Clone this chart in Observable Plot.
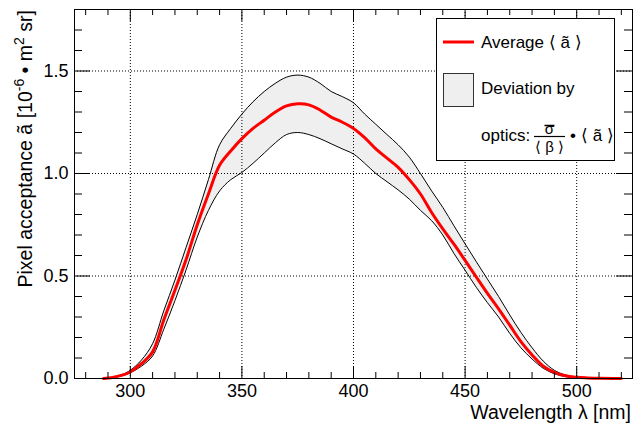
<!DOCTYPE html>
<html>
<head>
<meta charset="utf-8">
<script src="https://cdn.jsdelivr.net/npm/d3@7"></script>
<script src="https://cdn.jsdelivr.net/npm/@observablehq/plot@0.6"></script>
<style>
  html, body { margin: 0; padding: 0; background: #fff; }
  #chart { width: 635px; height: 432px; }
  svg { font-family: "Liberation Sans", Arial, Helvetica, sans-serif; }
</style>
</head>
<body>
<div id="chart"></div>
<script>
// ---- data ----
const wavelength = [288, 292, 296, 300, 305, 310, 315, 320, 325, 330, 335, 340, 345, 350, 355, 360, 365, 370, 375, 380, 385, 390, 395, 400, 405, 410, 415, 420, 425, 430, 435, 440, 445, 450, 455, 460, 465, 470, 475, 480, 485, 490, 495, 500, 505, 510, 520];
const average    = [0, 0.005, 0.015, 0.032, 0.072, 0.13, 0.285, 0.43, 0.58, 0.75, 0.9, 1.04, 1.11, 1.17, 1.22, 1.26, 1.30, 1.33, 1.34, 1.335, 1.31, 1.275, 1.25, 1.22, 1.175, 1.12, 1.075, 1.03, 0.97, 0.9, 0.81, 0.73, 0.655, 0.576, 0.495, 0.415, 0.34, 0.26, 0.18, 0.115, 0.06, 0.03, 0.013, 0.006, 0.003, 0.001, 0];
const upper      = [0, 0.006, 0.018, 0.04, 0.09, 0.17, 0.33, 0.48, 0.64, 0.8, 0.97, 1.14, 1.22, 1.29, 1.35, 1.40, 1.44, 1.47, 1.48, 1.47, 1.44, 1.40, 1.375, 1.345, 1.29, 1.24, 1.19, 1.14, 1.08, 1.0, 0.915, 0.835, 0.745, 0.657, 0.57, 0.485, 0.40, 0.31, 0.225, 0.15, 0.085, 0.04, 0.017, 0.007, 0.003, 0.001, 0];
const lower      = [0, 0.004, 0.012, 0.028, 0.06, 0.11, 0.24, 0.38, 0.53, 0.69, 0.82, 0.915, 0.97, 1.005, 1.05, 1.10, 1.15, 1.19, 1.2, 1.19, 1.17, 1.145, 1.12, 1.095, 1.05, 1.0, 0.96, 0.92, 0.875, 0.82, 0.77, 0.70, 0.61, 0.528, 0.445, 0.37, 0.30, 0.22, 0.15, 0.095, 0.05, 0.023, 0.009, 0.004, 0.002, 0.001, 0];

const xMajorTicks = [300, 350, 400, 450, 500];
const xMinorTicks = [280, 290, 310, 320, 330, 340, 360, 370, 380, 390, 410, 420, 430, 440, 460, 470, 480, 490, 510, 520];
const yMajorTicks = [0, 0.5, 1.0, 1.5];
const yTickLabels = ["0.0", "0.5", "1.0", "1.5"];
const yMinorTicks = [0.1, 0.2, 0.3, 0.4, 0.6, 0.7, 0.8, 0.9, 1.1, 1.2, 1.3, 1.4, 1.6, 1.7];

const data = wavelength.map((w, i) => ({w, avg: average[i], hi: upper[i], lo: lower[i]}));

const W = 635, H = 432, ML = 74, MR = 3, MT = 9, MB = 54;
const innerW = W - ML - MR, innerH = H - MT - MB;
const TICKFONT = 18;
const TITLEFONT = 19.5;
const LEGFONT = 17;
const BAND = "#efefef";
const grid = {stroke: "#000", strokeOpacity: 1, strokeWidth: 1, strokeDasharray: "1,2"};
const tk = {stroke: "#000", strokeWidth: 1};

const chart = Plot.plot({
  width: W,
  height: H,
  marginLeft: ML,
  marginRight: MR,
  marginTop: MT,
  marginBottom: MB,
  style: {fontFamily: '"Liberation Sans", Arial, sans-serif', fontSize: TICKFONT + "px", background: "#fff"},
  x: {domain: [275, 525]},
  y: {domain: [0, 1.8]},
  marks: [
    Plot.areaY(data, {x: "w", y1: "lo", y2: "hi", fill: BAND, curve: "catmull-rom"}),
    Plot.gridX(xMajorTicks, grid),
    Plot.gridY(yMajorTicks.slice(1), grid),
    Plot.line(data, {x: "w", y: "hi", stroke: "#000", strokeWidth: 1, curve: "catmull-rom"}),
    Plot.line(data, {x: "w", y: "lo", stroke: "#000", strokeWidth: 1, curve: "catmull-rom"}),
    Plot.line(data, {x: "w", y: "avg", stroke: "#ff0000", strokeWidth: 3, curve: "catmull-rom"}),
    // inward ticks on all four sides
    Plot.tickX(xMinorTicks, {x: d => d, insetTop: innerH - 6, ...tk}),
    Plot.tickX(xMajorTicks, {x: d => d, insetTop: innerH - 12, ...tk}),
    Plot.tickX(xMinorTicks, {x: d => d, insetBottom: innerH - 6, ...tk}),
    Plot.tickX(xMajorTicks, {x: d => d, insetBottom: innerH - 12, ...tk}),
    Plot.tickY(yMinorTicks, {y: d => d, insetRight: innerW - 8, ...tk}),
    Plot.tickY(yMajorTicks, {y: d => d, insetRight: innerW - 16, ...tk}),
    Plot.tickY(yMinorTicks, {y: d => d, insetLeft: innerW - 8, ...tk}),
    Plot.tickY(yMajorTicks, {y: d => d, insetLeft: innerW - 16, ...tk}),
    // tick labels
    Plot.axisX({anchor: "bottom", ticks: xMajorTicks, tickSize: 0, tickPadding: 6, fontSize: TICKFONT, label: null, tickFormat: d => String(d), fill: "#000"}),
    Plot.axisY({anchor: "left", ticks: yMajorTicks, tickSize: 0, tickPadding: 6, fontSize: TICKFONT, label: null, tickFormat: (d, i) => yTickLabels[i], fill: "#000"}),
    Plot.frame({stroke: "#000", strokeWidth: 1})
  ]
});

document.getElementById("chart").appendChild(chart);

// ---- titles and legend ----
const svg = d3.select(chart);
const ff = '"Liberation Sans", Arial, sans-serif';

svg.append("text")
  .attr("x", 631).attr("y", 419)
  .attr("text-anchor", "end")
  .attr("font-family", ff).attr("font-size", TITLEFONT).attr("fill", "#000")
  .text("Wavelength λ [nm]");

const yt = svg.append("text")
  .attr("transform", "translate(32,10) rotate(-90)")
  .attr("text-anchor", "end")
  .attr("font-family", ff).attr("font-size", TITLEFONT).attr("fill", "#000");
yt.append("tspan").text("Pixel acceptance ã [10");
yt.append("tspan").attr("dy", -8).attr("font-size", 14).text("-6");
yt.append("tspan").attr("dy", 8).text(" • m");
yt.append("tspan").attr("dy", -8).attr("font-size", 14).text("2");
yt.append("tspan").attr("dy", 8).text(" sr]");

const lg = svg.append("g").attr("font-family", ff).attr("fill", "#000").attr("text-anchor", "start");
lg.append("rect").attr("x", 436.5).attr("y", 18.5).attr("width", 178).attr("height", 142)
  .attr("fill", "#fff").attr("stroke", "#000").attr("stroke-width", 1);
lg.append("line").attr("x1", 443).attr("x2", 474).attr("y1", 42).attr("y2", 42)
  .attr("stroke", "#ff0000").attr("stroke-width", 3);
lg.append("text").attr("x", 481).attr("y", 47.5).attr("text-anchor", "start").attr("font-size", LEGFONT).text("Average ⟨ ã ⟩");
lg.append("rect").attr("x", 443.5).attr("y", 73.5).attr("width", 30).attr("height", 33)
  .attr("fill", BAND).attr("stroke", "#333").attr("stroke-width", 1);
lg.append("text").attr("x", 481).attr("y", 93.5).attr("text-anchor", "start").attr("font-size", LEGFONT).text("Deviation by");
lg.append("text").attr("x", 481).attr("y", 141).attr("text-anchor", "start").attr("font-size", LEGFONT).text("optics:");
// fraction  sigma-bar over <beta>
lg.append("text").attr("x", 549.5).attr("y", 134).attr("text-anchor", "middle").attr("font-size", 15).text("σ");
lg.append("line").attr("x1", 544.5).attr("x2", 554.5).attr("y1", 125.5).attr("y2", 125.5).attr("stroke", "#000").attr("stroke-width", 1.5);
lg.append("line").attr("x1", 534).attr("x2", 565).attr("y1", 136.5).attr("y2", 136.5).attr("stroke", "#000").attr("stroke-width", 1.2);
lg.append("text").attr("x", 549.5).attr("y", 152).attr("text-anchor", "middle").attr("font-size", 15).text("⟨ β ⟩");
lg.append("text").attr("x", 573).attr("y", 141).attr("text-anchor", "middle").attr("font-size", LEGFONT).text("•");
lg.append("text").attr("x", 581).attr("y", 141).attr("text-anchor", "start").attr("font-size", LEGFONT).text("⟨ ã ⟩");
</script>
</body>
</html>
